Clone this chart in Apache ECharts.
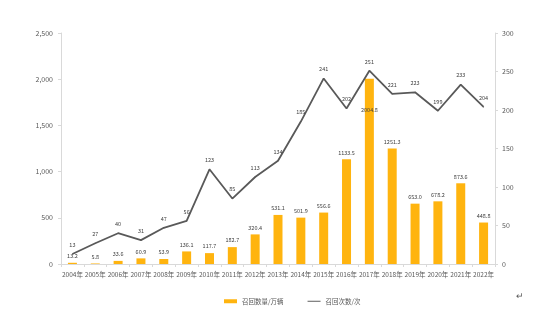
<!DOCTYPE html>
<html><head><meta charset="utf-8">
<script src="https://cdn.jsdelivr.net/npm/echarts@6/dist/echarts.min.js"></script>
<style>html,body{margin:0;padding:0;background:#fff;}#c{width:549px;height:321px;}</style>
</head><body><div id="c"></div>
<script>
const years = ['2004年','2005年','2006年','2007年','2008年','2009年','2010年','2011年','2012年','2013年','2014年','2015年','2016年','2017年','2018年','2019年','2020年','2021年','2022年'];
const recallQty = [13.2,5.8,33.6,60.9,53.9,136.1,117.7,182.7,320.4,531.1,501.9,556.6,1133.5,2004.8,1251.3,653.0,678.2,873.6,448.8];
const recallCount = [13,27,40,31,47,56,123,85,113,134,185,241,202,251,221,223,199,233,204];
const leftTicks = {min:0,max:2500,interval:500};
const rightTicks = {min:0,max:300,interval:50};

const chart = echarts.init(document.getElementById('c'), null, {renderer:'canvas'});
const font = '"Noto Sans CJK SC","DejaVu Sans",sans-serif';
chart.setOption({
  animation:false,
  textStyle:{fontFamily:font},
  grid:{left:61,right:54,top:33,bottom:57},
  legend:{
    top:293,left:219,itemGap:24,itemWidth:13,itemHeight:4,
    textStyle:{fontSize:6.5,color:'#595959',fontFamily:font},
    data:[{name:'召回数量/万辆',icon:'rect'},
          {name:'召回次数/次',icon:'path://M0,0 L20,0 L20,1.5 L0,1.5 Z',itemStyle:{color:'#595959',opacity:1}}]
  },
  xAxis:{
    type:'category',data:years,
    axisLine:{lineStyle:{color:'#d9d9d9'}},
    axisTick:{show:true,alignWithLabel:false,lineStyle:{color:'#d9d9d9'},length:3},
    axisLabel:{fontSize:6.5,color:'#595959',interval:0,margin:7}
  },
  yAxis:[
    {type:'value',min:leftTicks.min,max:leftTicks.max,interval:leftTicks.interval,
     splitLine:{show:false},
     axisLine:{show:true,lineStyle:{color:'#d9d9d9'}},
     axisTick:{show:true,length:3,lineStyle:{color:'#d9d9d9'}},
     axisLabel:{fontSize:7,color:'#595959',margin:8,
       formatter:v=>v.toLocaleString('en-US')}},
    {type:'value',min:rightTicks.min,max:rightTicks.max,interval:rightTicks.interval,
     splitLine:{show:false},
     axisLine:{show:true,lineStyle:{color:'#d9d9d9'}},
     axisTick:{show:true,length:3,lineStyle:{color:'#d9d9d9'}},
     axisLabel:{fontSize:7,color:'#595959',margin:7}}
  ],
  series:[
    {name:'召回数量/万辆',type:'bar',yAxisIndex:0,barWidth:9,
     itemStyle:{color:'#FFB40F'},
     data:recallQty.map((v,i)=>{
       const d={value:v};
       if(years[i]==='2017年'){d.label={position:'insideTop',distance:28};}
       return d;
     }),
     label:{show:true,position:'top',distance:4,fontSize:5.5,color:'#404040',
       formatter:p=>Number(p.value).toFixed(1)}},
    {name:'召回次数/次',type:'line',yAxisIndex:1,data:recallCount,
     symbol:'circle',symbolSize:1,showSymbol:true,
     lineStyle:{color:'#595959',width:1.8},itemStyle:{color:'#595959'},
     label:{show:true,position:'top',distance:6,fontSize:5.5,color:'#404040'}}
  ],
  graphic:[{type:'text',left:516,top:292,style:{text:'↵',fontSize:9,fill:'#595959'}}]
});
</script></body></html>
